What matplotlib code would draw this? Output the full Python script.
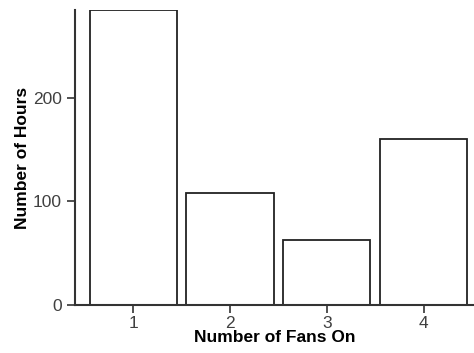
from matplotlib import pyplot as plt

# data
fans = [1, 2, 3, 4]
hours = [285, 108, 63, 160]

plt.rcParams['font.family'] = ['Liberation Sans', 'DejaVu Sans']

fig = plt.figure(figsize=(4.74, 3.53), dpi=100)
ax = fig.add_axes([75/474, 48/353, 1 - 75/474, (305 - 10)/353])

ax.bar(fans, hours, width=0.9, color="white", edgecolor="#222222", linewidth=1.3)

ax.set_xlim(0.4, 4.52)
ax.set_ylim(0, 285)
ax.set_xticks(fans)
ax.set_yticks([0, 100, 200])

for s in ["top", "right"]:
    ax.spines[s].set_visible(False)
for s in ["left", "bottom"]:
    ax.spines[s].set_color("#333333")
    ax.spines[s].set_linewidth(1.5)

ax.tick_params(axis="both", colors="#333333", labelcolor="#404040", labelsize=12.5, width=1.2, length=6)
ax.tick_params(axis="x", pad=2)
ax.set_xlabel("Number of Fans On", fontsize=12.5, fontweight="bold", labelpad=-1)
ax.set_ylabel("Number of Hours", fontsize=12.5, fontweight="bold", labelpad=2)

plt.savefig("out.png", dpi=100)
